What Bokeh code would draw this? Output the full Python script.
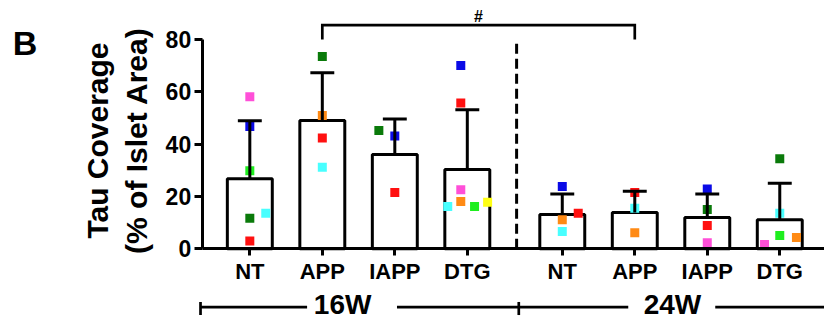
import math
from bokeh.plotting import figure
from bokeh.models import FixedTicker
from bokeh.core.properties import value
from bokeh.embed import file_html
from bokeh.resources import INLINE

# ---------------- data ----------------
categories = ["NT", "APP", "IAPP", "DTG", "NT", "APP", "IAPP", "DTG"]
weeks = ["16W", "24W"]
means = [26.8, 49.1, 36.1, 30.3, 13.1, 13.9, 12.0, 11.1]
sds = [22.2, 18.2, 13.5, 22.9, 7.9, 8.1, 9.0, 14.0]
y_ticks = [0, 20, 40, 60, 80]

# individual animals: group index, value, colour key, jitter
point_group = [0, 0, 0, 0, 0, 0,
               1, 1, 1, 1,
               2, 2, 2,
               3, 3, 3, 3, 3, 3, 3,
               4, 4, 4, 4,
               5, 5, 5,
               6, 6, 6, 6,
               7, 7, 7, 7, 7]
point_value = [58.1, 46.8, 29.8, 11.7, 13.6, 3.0,
               73.5, 51.0, 42.4, 31.2,
               45.2, 43.1, 21.5,
               70.1, 55.8, 22.6, 18.1, 16.2, 16.2, 17.8,
               23.8, 13.6, 11.1, 6.6,
               21.5, 15.5, 6.1,
               22.9, 15.0, 8.9, 2.3,
               34.4, 13.6, 5.1, 1.6, 4.3]
point_colour = ["pink", "blue", "lime", "dkgreen", "cyan", "red",
                "dkgreen", "orange", "red", "cyan",
                "dkgreen", "blue", "red",
                "blue", "red", "pink", "orange", "cyan", "lime", "yellow",
                "blue", "red", "orange", "cyan",
                "red", "cyan", "orange",
                "blue", "dkgreen", "red", "pink",
                "dkgreen", "cyan", "lime", "pink", "orange"]
point_jitter = [0, 0, 0, 0, 0.22, 0,
                0, 0, 0, 0,
                -0.22, 0, 0,
                -0.09, -0.09, -0.09, -0.09, -0.27, 0.10, 0.28,
                0, 0.22, 0, 0,
                0, 0, 0,
                0, 0, 0, 0,
                0, 0, 0, -0.21, 0.23]

# ---------------- layout / style ----------------
xpos = [0, 1, 2, 3, 4.31, 5.31, 6.31, 7.31]
X0, X1 = -3.439, 7.927          # whole canvas
Y0, Y1 = -27.80, 94.95
SPINE_X = -0.657
DIVIDER_X = 3.68
palette = {"pink": "#FF4FD8", "blue": "#0A0AE6", "lime": "#1EEE1E",
           "dkgreen": "#0A7A0A", "cyan": "#48FFFF", "red": "#FF1010",
           "orange": "#FF8A14", "yellow": "#FFFF14"}
FONT = "Liberation Sans"

p = figure(width=824, height=321, x_range=(X0, X1), y_range=(Y0, Y1),
           output_backend="svg", toolbar_location=None, title=None,
           min_border_left=0, min_border_right=0, min_border_top=0, min_border_bottom=0)
p.background_fill_color = "white"
p.border_fill_color = "white"
p.outline_line_color = None
p.xgrid.visible = False
p.ygrid.visible = False

# y axis at the spine position
ya = p.yaxis[0]
ya.fixed_location = SPINE_X
ya.bounds = (0, 80)
ya.ticker = FixedTicker(ticks=y_ticks, minor_ticks=[])
ya.axis_line_width = 3
ya.major_tick_line_width = 3
ya.major_tick_out = 8
ya.major_tick_in = 0
ya.minor_tick_out = 0
ya.minor_tick_in = 0
ya.major_label_standoff = 3
ya.major_label_text_font = FONT
ya.major_label_text_font_style = "bold"
ya.major_label_text_font_size = "23px"
ya.major_label_text_color = "black"

# x axis at y = 0
xa = p.xaxis[0]
xa.fixed_location = 0
xa.bounds = (SPINE_X, X1)
xa.ticker = FixedTicker(ticks=xpos, minor_ticks=[])
xa.major_label_overrides = {x: c for x, c in zip(xpos, categories)}
xa.axis_line_width = 3
xa.major_tick_line_width = 3
xa.major_tick_out = 7
xa.major_tick_in = 0
xa.minor_tick_out = 0
xa.minor_tick_in = 0
xa.major_label_standoff = 3
xa.major_label_text_font = FONT
xa.major_label_text_font_style = "bold"
xa.major_label_text_font_size = "22px"
xa.major_label_text_color = "black"

tops = [m + s for m, s in zip(means, sds)]

# bars
p.vbar(x=xpos, top=means, bottom=0, width=0.62, fill_color="white",
       line_color="black", line_width=3)

# points
px = [xpos[g] + j for g, j in zip(point_group, point_jitter)]
pc = [palette[c] for c in point_colour]
p.scatter(x=px, y=point_value, marker="square", size=9, fill_color=pc, line_color=None)

# error bars (upper only)
p.segment(x0=xpos, y0=means, x1=xpos, y1=tops, line_color="black", line_width=3)
p.segment(x0=[x - 0.165 for x in xpos], y0=tops, x1=[x + 0.165 for x in xpos], y1=tops,
          line_color="black", line_width=3)

# divider
p.line(x=[DIVIDER_X, DIVIDER_X], y=[0, 80], line_color="black", line_width=3, line_dash="10 5")

# significance bracket APP16 vs APP24
bx0, bx1 = xpos[1], xpos[5]
p.line(x=[bx0, bx0, bx1, bx1], y=[80, 85.5, 85.5, 80], line_color="black", line_width=2.7,
       line_join="miter")
p.text(x=[(bx0 + bx1) / 2], y=[88.8], text=["#"], text_align="center",
       text_baseline="middle", text_font=value(FONT), text_font_style="bold",
       text_font_size="16px", text_color="black")

# week group lines
GY = -22.33
MID = 3.71
p.segment(x0=[-0.68, 2.03, MID, 6.42], y0=[GY] * 4,
          x1=[0.79, MID, 5.22, X1], y1=[GY] * 4,
          line_color="black", line_width=2.7)
p.segment(x0=[-0.68, MID], y0=[GY + 2.0] * 2, x1=[-0.68, MID], y1=[GY - 3.0] * 2,
          line_color="black", line_width=2.7)
p.text(x=[1.28, 5.83], y=[-21.2, -21.2], text=weeks, text_align="center",
       text_baseline="middle", text_font=value(FONT), text_font_style="bold",
       text_font_size="28px", text_color="black")

# y label (two lines) and panel letter
p.text(x=[-2.10, -1.565], y=[41.4, 41.4], text=["Tau Coverage", "(% of Islet Area)"],
       angle=math.pi / 2, text_align="center", text_baseline="middle",
       text_font=value(FONT), text_font_style="bold", text_font_size="30px",
       text_color="black")
p.text(x=[-3.10], y=[78.7], text=["B"], text_align="center", text_baseline="middle",
       text_font=value(FONT), text_font_style="bold", text_font_size="34px",
       text_color="black")

open("out.html", "w").write(file_html(p, INLINE))
